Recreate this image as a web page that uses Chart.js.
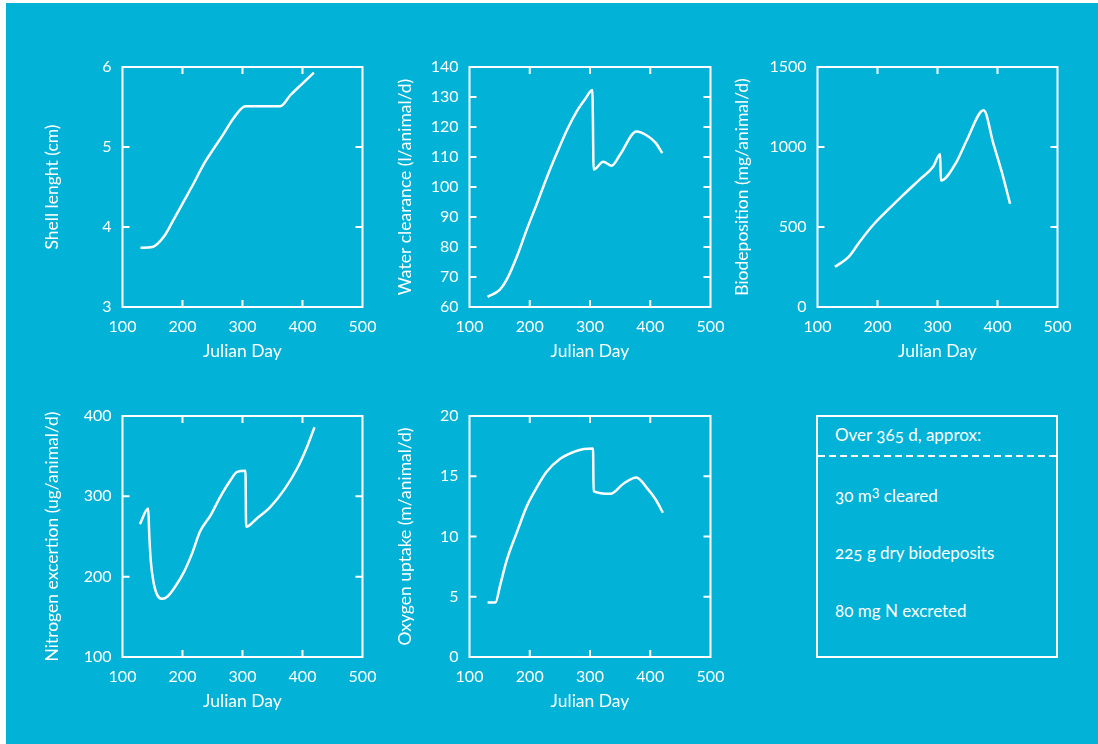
<!DOCTYPE html>
<html>
<head>
<meta charset="utf-8">
<script src="https://cdn.jsdelivr.net/npm/chart.js@4.4.1/dist/chart.umd.min.js"></script>
<style>
  html, body { margin: 0; padding: 0; background: #fff; }
  body { width: 1098px; height: 744px; position: relative; overflow: hidden; font-family: Lato, "Noto Sans", sans-serif; }
  #bg { position: absolute; left: 6px; top: 3px; right: 0; bottom: 0; background: #02b2d7; }
  canvas { position: absolute; }
  #summary { position: absolute; left: 816px; top: 415px; width: 238px; height: 239px; border: 2px solid #fff; }
  #summary .dash { position: absolute; left: 0; right: 0; top: 38px; height: 2px;
    background: repeating-linear-gradient(to right, #fff 0 7px, transparent 7px 11px); }
  .note { position: absolute; left: 835px; height: 20px; line-height: 20px; font-size: 17px; color: #fff;
    white-space: nowrap; font-variant-numeric: oldstyle-nums; }
  .note sup { font-size: 0.85em; line-height: 0; vertical-align: 0.45em; }
</style>
</head>
<body>
<div id="bg"></div>
<div id="summary"><div class="dash"></div></div>
<div class="note" style="top:425px">Over 365 d, approx:</div>
<div class="note" style="top:486px">30 m<sup>3</sup> cleared</div>
<div class="note" style="top:543px">225 g dry biodeposits</div>
<div class="note" style="top:601px">80 mg N excreted</div>

<script>
// x axis: Julian day
const xTicks = [100, 200, 300, 400, 500];

// Shell length (cm)
const shellDays = [130, 150, 169, 185, 202, 219, 235, 252, 269, 285, 305, 363, 380, 398, 419];
const shellLength = [3.74, 3.75, 3.88, 4.09, 4.32, 4.55, 4.78, 4.98, 5.17, 5.36, 5.51, 5.51, 5.65, 5.78, 5.93];

// Water clearance (l/animal/d)
const clearDays = [130, 150, 162, 179, 195, 212, 228, 245, 262, 278, 292, 304, 306, 322, 336, 350, 377, 395, 409, 420];
const clearRate = [63.4, 65.7, 69.2, 77.0, 85.8, 94.5, 103.0, 111.3, 119.1, 125.2, 129.3, 132.3, 105.8, 108.4, 107.1, 110.8, 118.5, 117.1, 114.7, 111.3];

// Biodeposition (mg/animal/d)
const bioDays = [129, 152, 171, 193, 216, 243, 271, 293, 304.5, 305.5, 332, 349, 377, 393, 407, 421];
const bioRate = [251, 313, 411, 514, 602, 701, 799, 878, 956, 790, 909, 1044, 1230, 1023, 846, 645];

// Nitrogen excretion (ug/animal/d)
const nitroDays = [129, 143, 144.5, 147, 151.5, 158, 166.5, 175, 186, 202.5, 216, 229, 247, 263, 280, 291, 305, 306, 324, 346.5, 369, 391, 407.5, 420];
const nitroRate = [265.5, 285, 254, 221, 194, 177, 172.4, 175.3, 185.6, 206, 229, 256, 276.7, 299.4, 320, 330.5, 331.7, 262, 272.5, 287, 307.7, 334.6, 361.5, 386];

// Oxygen uptake
const oxyDays = [130, 143, 151, 162, 179, 195, 212, 228, 251, 273, 290, 305, 306, 334, 356, 377, 395, 409, 421];
const oxyRate = [4.52, 4.52, 5.99, 8.06, 10.4, 12.5, 14.1, 15.37, 16.47, 17.02, 17.27, 17.3, 13.77, 13.54, 14.4, 14.9, 13.99, 13.07, 11.97];

Chart.defaults.font.family = "Lato, 'Noto Sans', sans-serif";
Chart.defaults.font.size = 16;
Chart.defaults.color = "#fff";

const titleFont = { size: 17.5 };

// box round the plot area with inward ticks on all four sides
const frame = {
  id: "frame",
  afterDatasetsDraw(chart) {
    const { ctx, chartArea: a, scales: { x, y } } = chart;
    ctx.save();
    ctx.strokeStyle = "#fff";
    ctx.lineWidth = 2;
    ctx.strokeRect(a.left, a.top, a.right - a.left, a.bottom - a.top);
    ctx.beginPath();
    x.ticks.forEach(t => {
      if (t.value <= x.min || t.value >= x.max) return;
      const px = x.getPixelForValue(t.value);
      ctx.moveTo(px, a.bottom); ctx.lineTo(px, a.bottom - 7);
      ctx.moveTo(px, a.top); ctx.lineTo(px, a.top + 7);
    });
    y.ticks.forEach(t => {
      if (t.value <= y.min || t.value >= y.max) return;
      const py = y.getPixelForValue(t.value);
      ctx.moveTo(a.left, py); ctx.lineTo(a.left + 7, py);
      ctx.moveTo(a.right, py); ctx.lineTo(a.right - 7, py);
    });
    ctx.stroke();
    ctx.restore();
  }
};

const panels = [
  { days: shellDays, values: shellLength, label: "Shell lenght (cm)", yMin: 3, yMax: 6, yStep: 1, area: [122, 67, 362, 307], titleX: 52 },
  { days: clearDays, values: clearRate, label: "Water clearance (l/animal/d)", yMin: 60, yMax: 140, yStep: 10, area: [469, 67, 710, 307], titleX: 405 },
  { days: bioDays, values: bioRate, label: "Biodeposition (mg/animal/d)", yMin: 0, yMax: 1500, yStep: 500, area: [817, 67, 1057, 307], titleX: 742 },
  { days: nitroDays, values: nitroRate, label: "Nitrogen excertion (ug/animal/d)", yMin: 100, yMax: 400, yStep: 100, area: [122, 416, 362, 657], titleX: 52 },
  { days: oxyDays, values: oxyRate, label: "Oxygen uptake (m/animal/d)", yMin: 0, yMax: 20, yStep: 5, area: [469, 416, 710, 657], titleX: 405 }
];

function makePanel(p) {
  const padTop = 24, padRight = 30, xH = 58.5;
  const yW = p.area[0] - (p.titleX - 14.5);
  const w = Math.round(yW + (p.area[2] - p.area[0]) + padRight);
  const h = Math.round(padTop + (p.area[3] - p.area[1]) + xH);
  const canvas = document.createElement("canvas");
  canvas.width = w;
  canvas.height = h;
  canvas.style.left = (p.area[0] - yW) + "px";
  canvas.style.top = (p.area[1] - padTop) + "px";
  canvas.style.width = w + "px";
  canvas.style.height = h + "px";
  document.body.appendChild(canvas);

  new Chart(canvas, {
    type: "line",
    data: {
      datasets: [{
        data: p.days.map((d, i) => ({ x: d, y: p.values[i] })),
        borderColor: "#fff",
        borderWidth: 2.5,
        pointRadius: 0,
        fill: false,
        cubicInterpolationMode: "monotone"
      }]
    },
    options: {
      responsive: false,
      animation: false,
      layout: { padding: { top: padTop, right: w - yW - (p.area[2] - p.area[0]), left: 0, bottom: 0 } },
      plugins: { legend: { display: false }, tooltip: { enabled: false } },
      scales: {
        x: {
          type: "linear",
          min: xTicks[0],
          max: xTicks[xTicks.length - 1],
          grid: { display: false, drawTicks: false },
          border: { display: false },
          ticks: { stepSize: 100, padding: 10, maxRotation: 0, callback: v => String(v) },
          title: { display: true, text: "Julian Day", font: titleFont, padding: { top: 4, bottom: 4 } },
          afterFit: s => { s.height = h - padTop - (p.area[3] - p.area[1]); }
        },
        y: {
          min: p.yMin,
          max: p.yMax,
          grid: { display: false, drawTicks: false },
          border: { display: false },
          ticks: { stepSize: p.yStep, padding: 11, callback: v => String(v) },
          title: { display: true, text: p.label, font: titleFont, padding: { top: 4, bottom: 4 } },
          afterFit: s => { s.width = yW; }
        }
      }
    },
    plugins: [frame]
  });
}

panels.forEach(makePanel);
</script>
</body>
</html>
